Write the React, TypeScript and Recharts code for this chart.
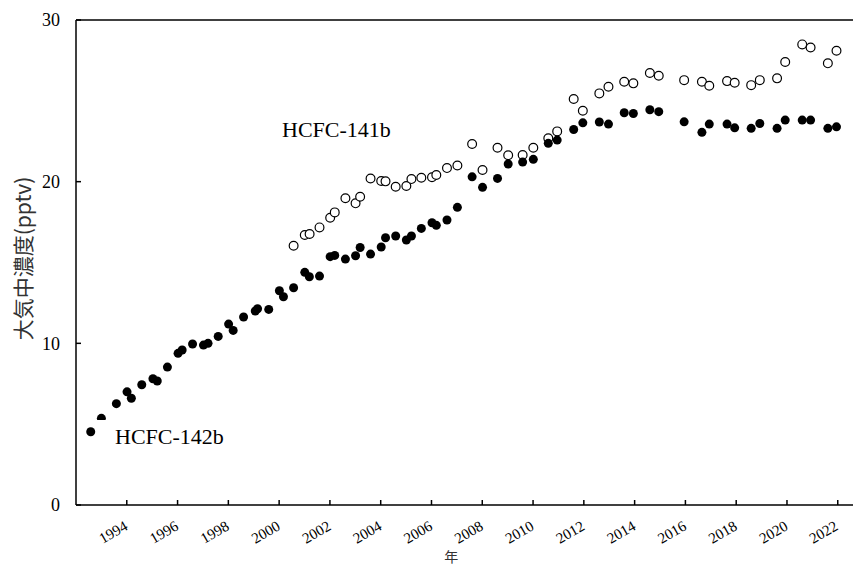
import { ReferenceLine, Scatter, ScatterChart, XAxis, YAxis } from 'recharts';

// HCFC-142b (filled markers)
const years142b = [
  1992.58, 1993.0, 1993.59, 1994.01, 1994.18, 1994.59, 1995.03, 1995.2, 1995.6,
  1996.02, 1996.18, 1996.59, 1997.02, 1997.2, 1997.6, 1998.01, 1998.19, 1998.6,
  1999.06, 1999.15, 1999.59, 2000.01, 2000.17, 2000.57, 2001.01, 2001.19, 2001.59,
  2002.01, 2002.19, 2002.61, 2003.01, 2003.19, 2003.6, 2004.02, 2004.19, 2004.59,
  2005.01, 2005.21, 2005.6, 2006.02, 2006.19, 2006.61, 2007.02, 2007.6, 2008.01,
  2008.6, 2009.02, 2009.59, 2010.01, 2010.6, 2010.95, 2011.6, 2011.96, 2012.61,
  2012.97, 2013.59, 2013.95, 2014.6, 2014.95, 2015.95, 2016.65, 2016.94, 2017.64,
  2017.94, 2018.59, 2018.93, 2019.61, 2019.93, 2020.6, 2020.93, 2021.61, 2021.95,
];
const values142b = [
  4.53, 5.36, 6.27, 7.0, 6.6, 7.44, 7.81, 7.67, 8.53,
  9.38, 9.59, 9.96, 9.89, 10.0, 10.43, 11.19, 10.8, 11.63,
  12.0, 12.14, 12.1, 13.25, 12.88, 13.44, 14.39, 14.12, 14.16,
  15.36, 15.44, 15.21, 15.42, 15.93, 15.52, 15.96, 16.53, 16.64,
  16.39, 16.64, 17.11, 17.46, 17.3, 17.63, 18.41, 20.3, 19.65,
  20.2, 21.09, 21.21, 21.38, 22.37, 22.57, 23.23, 23.64, 23.69,
  23.56, 24.26, 24.22, 24.45, 24.33, 23.7, 23.05, 23.56, 23.56,
  23.33, 23.3, 23.6, 23.3, 23.81, 23.81, 23.81, 23.3, 23.39,
];

// HCFC-141b (open markers)
const years141b = [
  2000.57, 2001.01, 2001.2, 2001.59, 2002.01, 2002.19, 2002.61, 2003.01, 2003.19,
  2003.6, 2004.02, 2004.19, 2004.59, 2005.01, 2005.21, 2005.6, 2006.02, 2006.19,
  2006.61, 2007.02, 2007.6, 2008.01, 2008.6, 2009.02, 2009.59, 2010.01, 2010.6,
  2010.95, 2011.6, 2011.96, 2012.61, 2012.97, 2013.59, 2013.95, 2014.6, 2014.95,
  2015.95, 2016.65, 2016.94, 2017.64, 2017.94, 2018.59, 2018.93, 2019.61, 2019.93,
  2020.6, 2020.93, 2021.61, 2021.95,
];
const values141b = [
  16.04, 16.7, 16.76, 17.17, 17.77, 18.1, 18.97, 18.66, 19.07,
  20.2, 20.04, 20.02, 19.69, 19.73, 20.16, 20.24, 20.27, 20.41,
  20.84, 21.0, 22.33, 20.72, 22.1, 21.63, 21.65, 22.1, 22.68,
  23.11, 25.11, 24.39, 25.46, 25.87, 26.18, 26.08, 26.72, 26.55,
  26.28, 26.18, 25.93, 26.22, 26.12, 25.97, 26.28, 26.39, 27.4,
  28.49, 28.3, 27.32, 28.1,
];

const xTicks = [1994, 1996, 1998, 2000, 2002, 2004, 2006, 2008, 2010, 2012, 2014, 2016, 2018, 2020, 2022];
const yTicks = [0, 10, 20, 30];

const data142b = years142b.map((year, i) => ({ year, value: values142b[i] }));
const data141b = years141b.map((year, i) => ({ year, value: values141b[i] }));

const serif = '"Liberation Serif", "Times New Roman", serif';
const cjk = '"Noto Sans CJK JP", sans-serif';

const XTick = (props: any) => {
  const { x, y, payload } = props;
  return (
    <text
      x={x + 2}
      y={y}
      textAnchor="end"
      transform={`rotate(-30, ${x + 2}, ${y})`}
      fontFamily={serif}
      fontSize={15}
      fill="#000"
    >
      {payload.value}
    </text>
  );
};

const YLabel = (props: any) => {
  const { viewBox } = props;
  const cx = viewBox.x + 22;
  const cy = viewBox.y + viewBox.height / 2 - 4;
  return (
    <text
      x={cx}
      y={cy}
      textAnchor="middle"
      dominantBaseline="central"
      transform={`rotate(-90, ${cx}, ${cy})`}
      fontFamily={cjk}
      fontSize={21}
      fill="#333"
    >
      大気中濃度(pptv)
    </text>
  );
};

const XLabel = (props: any) => {
  const { viewBox } = props;
  return (
    <text
      x={viewBox.x + viewBox.width * 0.483}
      y={viewBox.y + 51}
      textAnchor="middle"
      dominantBaseline="central"
      fontFamily={cjk}
      fontSize={14}
      fill="#333"
    >
      年
    </text>
  );
};

export default function App() {
  return (
    <div style={{ position: 'absolute', left: 0, top: 0, width: 853, height: 565 }}>
      <ScatterChart width={853} height={565} margin={{ top: 20, right: 0, bottom: 0, left: 0 }}>
        <XAxis
          type="number"
          dataKey="year"
          domain={[1992, 2022.6]}
          ticks={xTicks}
          allowDataOverflow
          height={60}
          stroke="#000"
          strokeWidth={1.5}
          tickSize={-5}
          tickMargin={29}
          tick={<XTick />}
          label={<XLabel />}
        />
        <YAxis
          type="number"
          dataKey="value"
          domain={[0, 30]}
          ticks={yTicks}
          width={76}
          stroke="#000"
          strokeWidth={1.5}
          tickSize={-5}
          tickMargin={21}
          tick={{ fontFamily: serif, fontSize: 18, fill: '#000' }}
          label={<YLabel />}
        />
        <ReferenceLine y={30} stroke="#000" strokeWidth={1.5} />
        <Scatter
          name="HCFC-141b"
          data={data141b}
          isAnimationActive={false}
          shape={(p: any) => (
            <circle cx={p.cx} cy={p.cy} r={4.4} fill="#fff" stroke="#000" strokeWidth={1.2} />
          )}
        />
        <Scatter
          name="HCFC-142b"
          data={data142b}
          isAnimationActive={false}
          shape={(p: any) => <circle cx={p.cx} cy={p.cy} r={4.5} fill="#000" />}
        />
      </ScatterChart>
      <svg
        width={853}
        height={565}
        style={{ position: 'absolute', left: 0, top: 0, pointerEvents: 'none' }}
      >
        <text x={282} y={137} fontFamily={serif} fontSize={22} fill="#000">
          HCFC-141b
        </text>
        <rect x={97} y={420} width={136} height={34} fill="#fff" />
        <text x={115} y={444} fontFamily={serif} fontSize={22} fill="#000">
          HCFC-142b
        </text>
      </svg>
    </div>
  );
}
